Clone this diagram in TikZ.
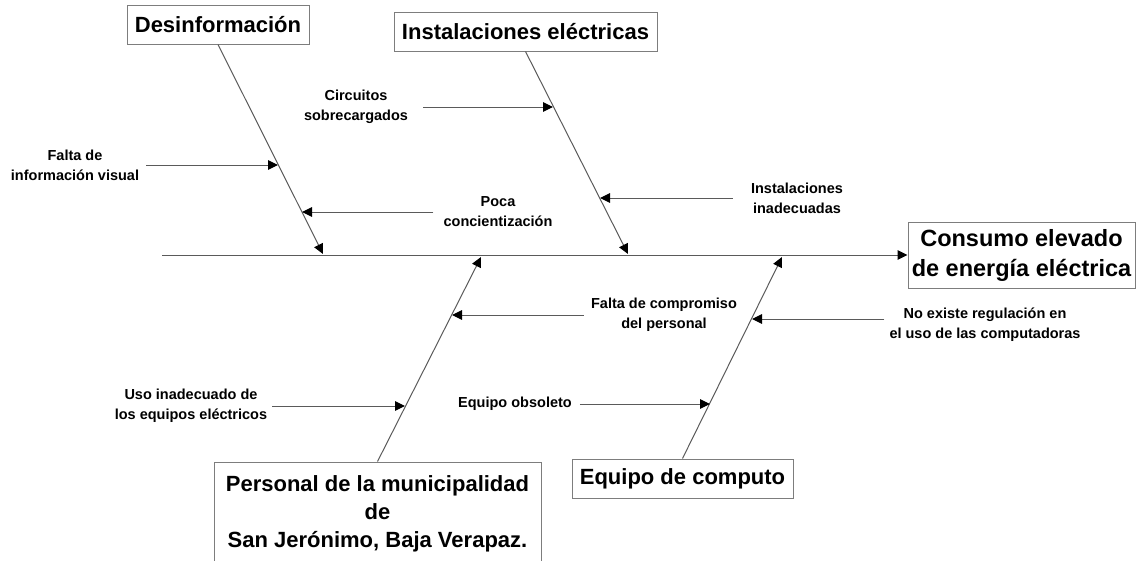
\documentclass[tikz,border=0pt]{standalone}
\usepackage{fontspec}
\setmainfont{Liberation Sans}
\usepackage{tikz}
\usetikzlibrary{arrows.meta, calc}
\definecolor{linegray}{RGB}{90,90,90}
\definecolor{boxgray}{RGB}{125,125,125}
\tikzset{
    cause/.style={draw=boxgray, line width=1pt, inner sep=0pt, align=center,
        font=\bfseries\fontsize{22}{28}\selectfont},
    subcause/.style={inner sep=0pt, align=center,
        font=\bfseries\fontsize{14.5}{20}\selectfont},
    bone/.style={linegray, line width=1pt,
        -{Triangle[length=10pt, width=9.5pt, color=black]}}
}

\begin{document}
\begin{tikzpicture}[x=1pt, y=-1pt]
    \useasboundingbox (0,0) rectangle (1136,560);
    \clip (0,0) rectangle (1136,560);

    % main categories
    \node[cause, minimum width=182pt, minimum height=39pt] (desinf) at (218,24.5) {Desinformación};
    \node[cause, minimum width=263pt, minimum height=39pt] (instal) at (525.5,31.5) {Instalaciones eléctricas};
    \node[cause, minimum width=227pt, minimum height=66pt,
        font=\bfseries\fontsize{23.5}{30}\selectfont] (consumo) at (1021.5,255) {Consumo elevado\\de energía eléctrica};
    \node[cause, minimum width=327pt, minimum height=104pt] (personal) at (377.5,514)
        {Personal de la municipalidad\\de\\San Jerónimo, Baja Verapaz.};
    \node[cause, minimum width=221pt, minimum height=39pt] (equipo) at (682.5,478.5) {Equipo de computo};

    % bone ends
    \coordinate (spine) at (162,255);
    \coordinate (dtip) at (323,254);
    \coordinate (itip) at (628,254);
    \coordinate (ptip) at (481,257);
    \coordinate (etip) at (782,257);

    % sub causes
    \node[subcause] (fiv) at (75,165) {Falta de\\información visual};
    \node[subcause] (poca) at (498,212) {Poca\\concientización};
    \node[subcause] (circ) at (356,107) {Circuitos\\sobrecargados};
    \node[subcause] (inad) at (797,198) {Instalaciones\\inadecuadas};
    \node[subcause] (comp) at (664,315) {Falta de compromiso\\del personal};
    \node[subcause] (uso) at (191,406) {Uso inadecuado de\\los equipos eléctricos};
    \node[subcause] (obso) at (515,404) {Equipo obsoleto};
    \node[subcause] (noreg) at (985,325) {No existe regulación en\\el uso de las computadoras};

    % points on the bones
    \coordinate (tfiv) at (278,165);
    \coordinate (tpoca) at (302,212);
    \coordinate (tcirc) at (553,107);
    \coordinate (tinad) at (600,198);
    \coordinate (tcomp) at (452,315);
    \coordinate (tuso) at (405,406);
    \coordinate (tobso) at (710,404);
    \coordinate (tnoreg) at (752,319);

    % spine and bones
    \draw[bone] (spine) -- (consumo.west);
    \draw[bone] (desinf.south) -- (dtip);
    \draw[bone] (instal.south) -- (itip);
    \draw[bone] (personal.north) -- (ptip);
    \draw[bone] (equipo.north) -- (etip);

    \foreach \lab/\side/\gap in {
        fiv/east/7, poca/west/-10, circ/east/15, inad/west/-18,
        comp/west/-7, uso/east/5, obso/east/8, noreg/west/-5}{
        \draw[bone] ([xshift=\gap pt]\lab.\side |- t\lab) -- (t\lab);
    }
\end{tikzpicture}
\end{document}
